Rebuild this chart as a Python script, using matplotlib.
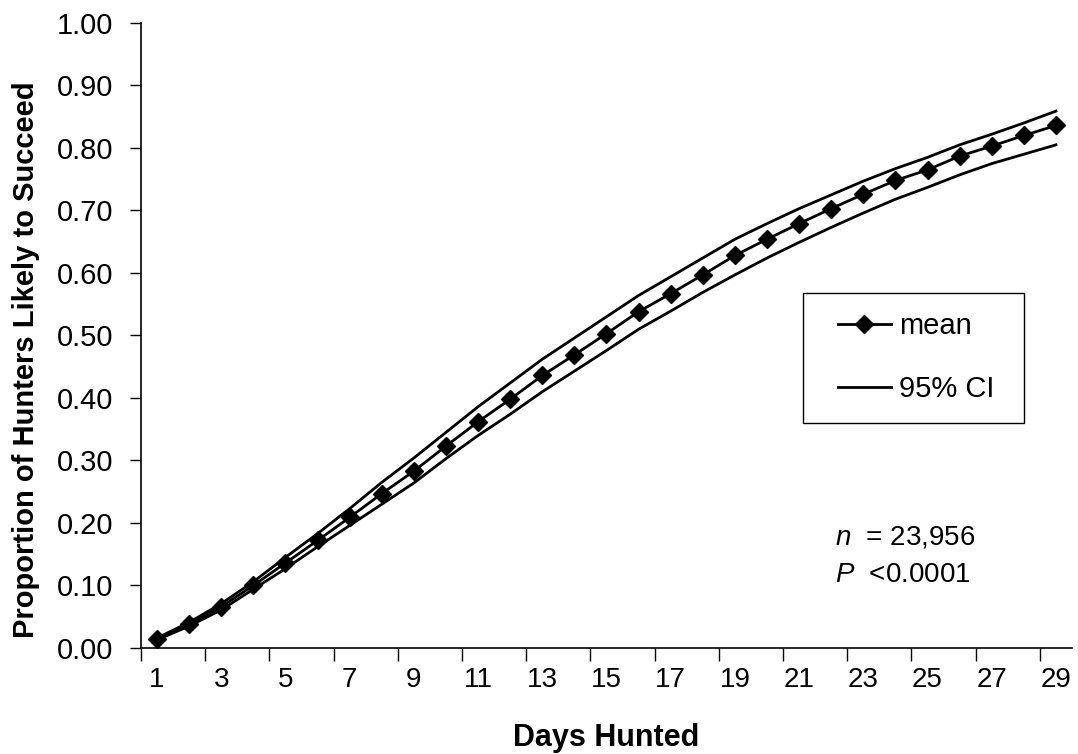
import numpy as np
import matplotlib
matplotlib.use("Agg")
import matplotlib.pyplot as plt
from matplotlib.patches import Rectangle
from matplotlib.ticker import MultipleLocator, FixedLocator, NullFormatter

plt.rcParams["font.family"] = ["Liberation Sans", "DejaVu Sans"]
plt.rcParams["mathtext.fontset"] = "custom"
plt.rcParams["mathtext.it"] = "Liberation Sans:italic"
plt.rcParams["mathtext.rm"] = "Liberation Sans"

# ── Data ──────────────────────────────────────────────────────────────────────
days = list(range(1, 30))
mean = [0.015, 0.038, 0.066, 0.100, 0.136, 0.172, 0.209, 0.247, 0.283, 0.323,
        0.362, 0.398, 0.436, 0.469, 0.503, 0.538, 0.567, 0.597, 0.628, 0.654,
        0.679, 0.703, 0.726, 0.748, 0.765, 0.787, 0.803, 0.820, 0.836]
ci_upper = [0.016, 0.041, 0.071, 0.106, 0.145, 0.183, 0.223, 0.265, 0.304, 0.345,
            0.386, 0.424, 0.462, 0.496, 0.530, 0.564, 0.594, 0.624, 0.654, 0.679,
            0.703, 0.725, 0.747, 0.767, 0.785, 0.805, 0.822, 0.840, 0.859]
ci_lower = [0.013, 0.035, 0.061, 0.094, 0.127, 0.162, 0.196, 0.230, 0.264, 0.303,
            0.340, 0.374, 0.410, 0.443, 0.476, 0.510, 0.539, 0.569, 0.597, 0.624,
            0.649, 0.673, 0.696, 0.718, 0.737, 0.757, 0.775, 0.790, 0.805]

# ── Figure ────────────────────────────────────────────────────────────────────
fig = plt.figure(figsize=(10.78, 7.54), dpi=100)
ax = fig.add_axes([0.1308, 0.1406, 0.8636, 0.8289])

ax.plot(days, mean, color="black", lw=2.0, marker="D", ms=9, label="mean", zorder=3)
ax.plot(days, ci_upper, color="black", lw=2.0, label="95% CI")
ax.plot(days, ci_lower, color="black", lw=2.0)

ax.set_xlim(0.5, 29.5)
ax.set_ylim(0, 1.0)

# category-style x axis: labels at odd days, tick marks between categories
ax.xaxis.set_major_locator(FixedLocator(days[::2]))
ax.xaxis.set_minor_locator(FixedLocator(np.arange(0.5, 29, 2)))
ax.xaxis.set_minor_formatter(NullFormatter())
ax.tick_params(axis="x", which="major", length=0, pad=14, labelsize=20)
ax.tick_params(axis="x", which="minor", length=9, width=1, direction="out")

ax.yaxis.set_major_locator(MultipleLocator(0.1))
ax.yaxis.set_major_formatter(plt.FuncFormatter(lambda v, p: f"{v:.2f}"))
ax.tick_params(axis="y", length=8, width=1, pad=12, labelsize=21)

for s in ["top", "right"]:
    ax.spines[s].set_visible(False)
for s in ["left", "bottom"]:
    ax.spines[s].set_linewidth(1.2)

ax.set_xlabel("Days Hunted", fontsize=22, fontweight="bold")
ax.set_ylabel("Proportion of Hunters Likely to Succeed", fontsize=21, fontweight="bold")
ax.xaxis.set_label_coords(0.5, -0.12)
ax.yaxis.set_label_coords(-0.108, 0.462)

# legend box drawn separately so the padding can match
ax.add_patch(Rectangle((0.711, 0.36), 0.2375, 0.208, transform=ax.transAxes,
                       fill=True, facecolor="white", edgecolor="black", lw=1.0, zorder=4))
leg = ax.legend(loc="upper left", bbox_to_anchor=(0.7487, 0.538), borderaxespad=0,
                fontsize=21, frameon=False, handlelength=1.8, handletextpad=0.3,
                labelspacing=1.2, borderpad=0)
leg.set_zorder(5)

ax.text(0.745, 0.165, "$\\it{n}$  = 23,956", transform=ax.transAxes, fontsize=20)
ax.text(0.745, 0.106, "$\\it{P}$  <0.0001", transform=ax.transAxes, fontsize=20)

fig.savefig("out.png", dpi=100)
